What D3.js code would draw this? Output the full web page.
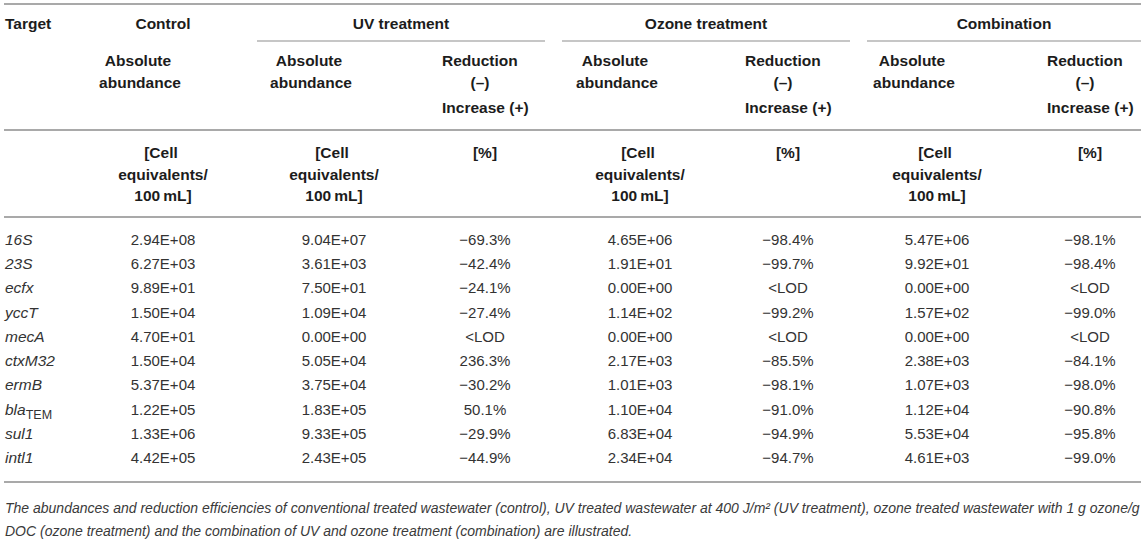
<!DOCTYPE html>
<html>
<head>
<meta charset="utf-8">
<script src="https://cdn.jsdelivr.net/npm/d3@7"></script>
<style>
  body { margin: 0; background: #fff; }
  text { font-family: "Liberation Sans", Arial, Helvetica, sans-serif; }
</style>
</head>
<body>
<svg id="table" width="1145" height="547"></svg>
<script>
// table values
var targets = ["16S", "23S", "ecfx", "yccT", "mecA", "ctxM32", "ermB", "blaTEM", "sul1", "intl1"];
var controlAbs = [2.94e8, 6.27e3, 9.89e1, 1.50e4, 4.70e1, 1.50e4, 5.37e4, 1.22e5, 1.33e6, 4.42e5];
var uvAbs = [9.04e7, 3.61e3, 7.50e1, 1.09e4, 0, 5.05e4, 3.75e4, 1.83e5, 9.33e5, 2.43e5];
var uvChange = [-69.3, -42.4, -24.1, -27.4, null, 236.3, -30.2, 50.1, -29.9, -44.9];
var ozoneAbs = [4.65e6, 1.91e1, 0, 1.14e2, 0, 2.17e3, 1.01e3, 1.10e4, 6.83e4, 2.34e4];
var ozoneChange = [-98.4, -99.7, null, -99.2, null, -85.5, -98.1, -91.0, -94.9, -94.7];
var comboAbs = [5.47e6, 9.92e1, 0, 1.57e2, 0, 2.38e3, 1.07e3, 1.12e4, 5.53e4, 4.61e3];
var comboChange = [-98.1, -98.4, null, -99.0, null, -84.1, -98.0, -90.8, -95.8, -99.0];

var groups = ["Control", "UV treatment", "Ozone treatment", "Combination"];
var caption = [
  "The abundances and reduction efficiencies of conventional treated wastewater (control), UV treated wastewater at 400 J/m\u00b2 (UV treatment), ozone treated wastewater with 1 g ozone/g",
  "DOC (ozone treatment) and the combination of UV and ozone treatment (combination) are illustrated."
];

var columns = [
  {key: "control", kind: "abs", values: controlAbs},
  {key: "uvAbs", kind: "abs", values: uvAbs},
  {key: "uvChange", kind: "change", values: uvChange},
  {key: "ozoneAbs", kind: "abs", values: ozoneAbs},
  {key: "ozoneChange", kind: "change", values: ozoneChange},
  {key: "comboAbs", kind: "abs", values: comboAbs},
  {key: "comboChange", kind: "change", values: comboChange}
];

var svg = d3.select("#table");

// column centres and row baselines
var x = d3.scaleOrdinal()
    .domain(columns.map(function(c) { return c.key; }))
    .range([163, 334, 485, 640, 788, 937, 1090]);
var y = d3.scalePoint().domain(targets).range([245, 463]);

var groupX = d3.scaleOrdinal().domain(groups).range([163, 401, 706, 1004]);
var groupSpan = {
  "UV treatment": [257, 545],
  "Ozone treatment": [562, 850],
  "Combination": [867, 1141]
};

var fmtPct = d3.format(".1f");
function fmtAbs(v) {
  var s = v.toExponential(2).toUpperCase();
  return s.replace(/E([+-])(\d)$/, "E$10$2");
}
function fmtChange(v) {
  return v === null ? "<LOD" : fmtPct(v) + "%";
}

function rule(y0, x0, x1, w, col) {
  svg.append("line")
    .attr("x1", x0).attr("x2", x1)
    .attr("y1", y0).attr("y2", y0)
    .attr("stroke", col || "#a9a9a9")
    .attr("stroke-width", w || 2);
}

function headText(str, px, py, anchor) {
  return svg.append("text")
    .attr("x", px).attr("y", py)
    .attr("text-anchor", anchor || "middle")
    .style("font-size", "15.5px")
    .style("font-weight", "bold")
    .style("fill", "#1c1c1c")
    .text(str);
}

// horizontal rules
rule(4, 4, 1141);
rule(130, 4, 1141);
rule(217, 4, 1141);
rule(482, 4, 1141);
Object.keys(groupSpan).forEach(function(g) {
  rule(41, groupSpan[g][0], groupSpan[g][1], 1.6, "#b3b3b3");
});

// header rows
headText("Target", 5, 29, "start");
groups.forEach(function(g) { headText(g, groupX(g), 29); });

columns.forEach(function(c) {
  var cx = x(c.key);
  if (c.kind === "abs") {
    headText("Absolute", cx - 25, 66);
    headText("abundance", cx - 23, 88);
    headText("[Cell", cx - 2, 158);
    headText("equivalents/", cx, 180);
    headText("100\u2009mL]", cx, 201);
  } else {
    headText("Reduction", cx - 43, 66, "start");
    headText("(\u2013)", cx - 5, 88);
    headText("Increase (+)", cx - 43, 113, "start");
    headText("[%]", cx, 158);
  }
});

// target names
var names = svg.append("g").selectAll("text")
  .data(targets)
  .join("text")
    .attr("x", 5)
    .attr("y", function(d) { return y(d); })
    .style("font-size", "15.5px")
    .style("font-style", "italic")
    .style("fill", "#333");
names.each(function(d) {
  var t = d3.select(this);
  if (d === "blaTEM") {
    t.append("tspan").text("bla");
    t.append("tspan").attr("dy", 4).style("font-style", "normal")
      .style("font-size", "12.5px").text("TEM");
  } else {
    t.text(d);
  }
});

// value cells
columns.forEach(function(c) {
  svg.append("g").selectAll("text")
    .data(c.values)
    .join("text")
      .attr("x", x(c.key))
      .attr("y", function(d, i) { return y(targets[i]); })
      .attr("text-anchor", "middle")
      .style("font-size", "15px")
      .style("fill", "#333")
      .text(function(d) { return c.kind === "abs" ? fmtAbs(d) : fmtChange(d); });
});

// caption
svg.append("g").selectAll("text")
  .data(caption)
  .join("text")
    .attr("x", 5)
    .attr("y", function(d, i) { return 513 + i * 23; })
    .style("font-size", "14px")
    .style("font-style", "italic")
    .style("fill", "#3a3a3a")
    .text(function(d) { return d; });
</script>
</body>
</html>
